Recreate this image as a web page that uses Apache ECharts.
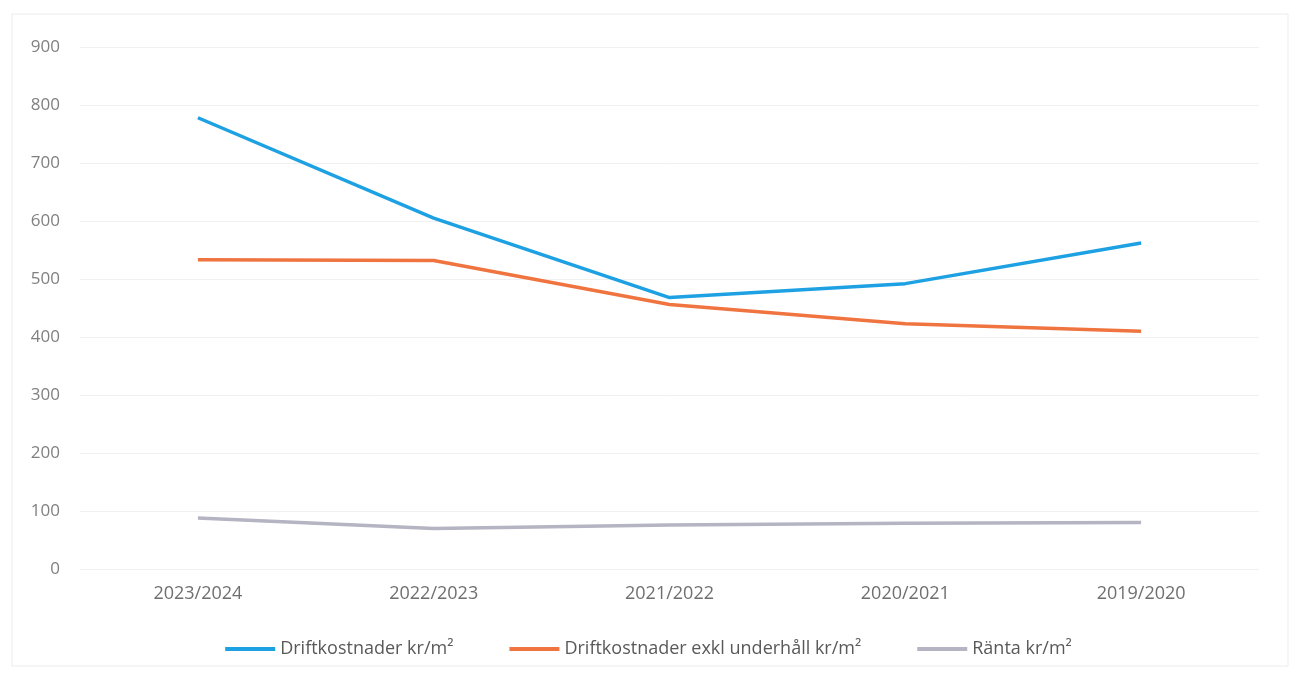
<!DOCTYPE html>
<html>
<head>
<meta charset="utf-8">
<script src="https://cdn.jsdelivr.net/npm/echarts@6/dist/echarts.min.js"></script>
<style>
  html, body { margin: 0; padding: 0; background: #fff; }
  #chart { width: 1297px; height: 675px; }
</style>
</head>
<body>
<div id="chart"></div>
<script>
// kategorier (år) och värden
const years = ["2023/2024", "2022/2023", "2021/2022", "2020/2021", "2019/2020"];
const drift = [778, 605, 468, 492, 562];
const driftExkl = [533, 532, 456, 423, 410];
const ranta = [88, 70, 76, 79, 80];

const chart = echarts.init(document.getElementById("chart"));

const lineSeries = (name, data, color) => ({
  name: name,
  type: "line",
  data: data,
  symbol: "none",
  smooth: false,
  lineStyle: { width: 3.5, color: color },
  itemStyle: { color: color },
});

chart.setOption({
  backgroundColor: "#fff",
  textStyle: { fontFamily: "Open Sans" },
  graphic: [
    {
      type: "rect",
      shape: { x: 12, y: 14, width: 1276, height: 652 },
      style: { fill: "none", stroke: "#ececec", lineWidth: 1 },
    },
  ],
  grid: { left: 80, right: 38, top: 47, bottom: 106 },
  legend: {
    bottom: 12,
    left: "center",
    itemWidth: 50,
    itemHeight: 4,
    itemGap: 56,
    icon: "rect",
    textStyle: { color: "#595959", fontSize: 18 },
    data: ["Driftkostnader kr/m²", "Driftkostnader exkl underhåll kr/m²", "Ränta kr/m²"],
  },
  xAxis: {
    type: "category",
    data: years,
    boundaryGap: true,
    axisLine: { show: false },
    axisTick: { show: false },
    axisLabel: { color: "#6f6f6f", fontSize: 18, margin: 16 },
  },
  yAxis: {
    type: "value",
    min: 0,
    max: 900,
    interval: 100,
    axisLine: { show: false },
    axisTick: { show: false },
    axisLabel: { color: "#808080", fontSize: 17, margin: 20 },
    splitLine: { lineStyle: { color: "#f0f0f0", width: 1 } },
  },
  series: [
    lineSeries("Driftkostnader kr/m²", drift, "#1ea1e2"),
    lineSeries("Driftkostnader exkl underhåll kr/m²", driftExkl, "#f0743f"),
    lineSeries("Ränta kr/m²", ranta, "#b4b4c2"),
  ],
});
</script>
</body>
</html>
